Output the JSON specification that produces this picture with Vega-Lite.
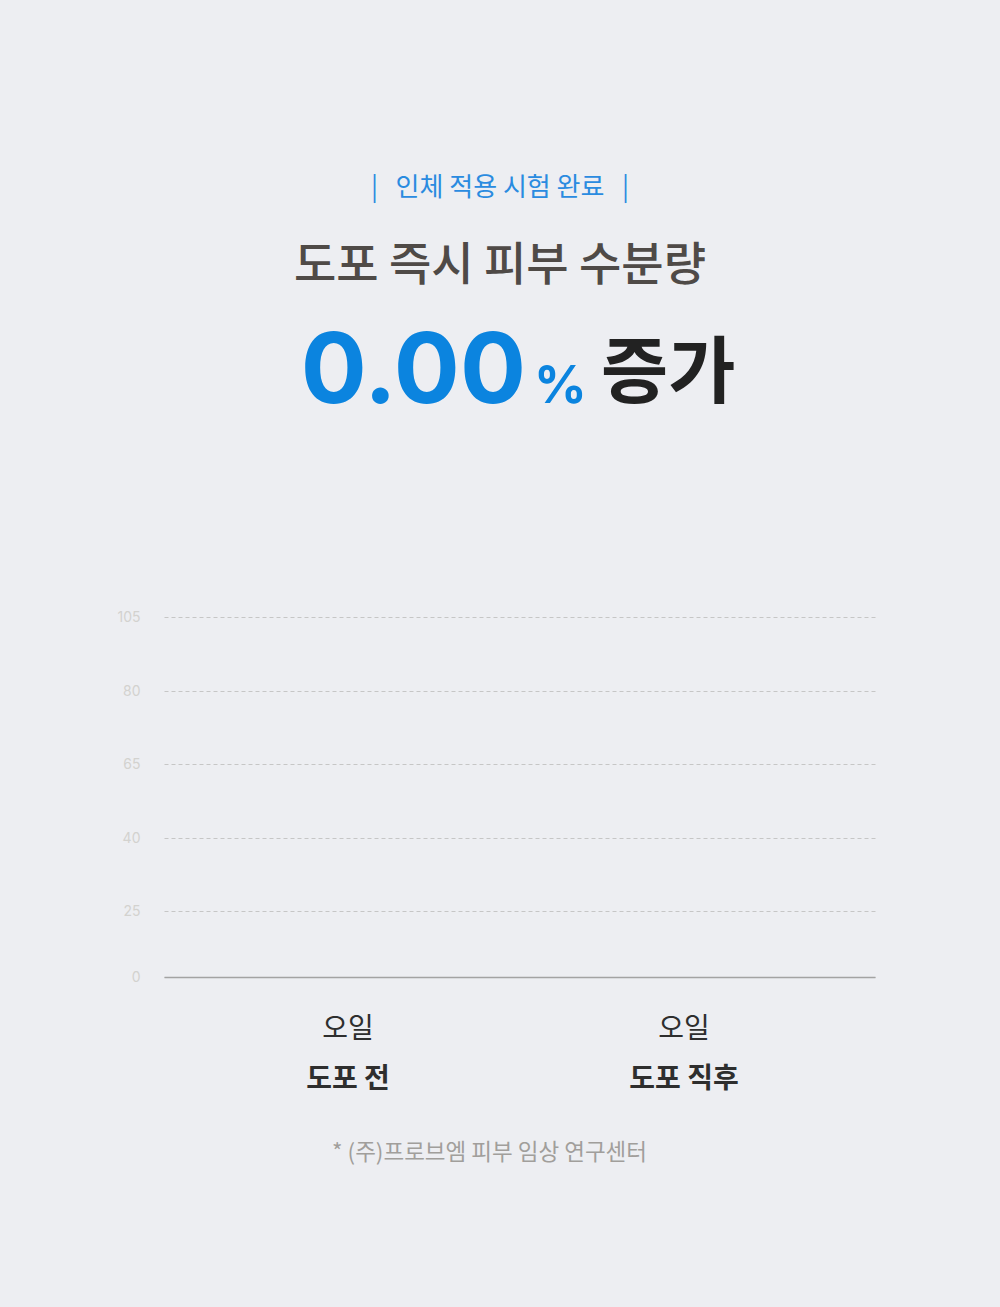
{
  "$schema": "https://vega.github.io/schema/vega-lite/v6.json",
  "autosize": {"type": "none"},
  "padding": {"left": 164, "top": 303, "right": 836, "bottom": 1004},
  "background": "#edeef2",
  "bounds": "flush",
  "spacing": 114,
  "config": {
    "view": {"stroke": null},
    "font": "Noto Sans CJK KR"
  },
  "vconcat": [
    {
      "width": 672,
      "height": 200,
      "title": {
        "text": "|\u00a0\u00a0\u00a0인체 적용 시험 완료\u00a0\u00a0\u00a0|",
        "subtitle": "도포 즉시 피부 수분량",
        "anchor": "middle",
        "font": "Noto Sans CJK KR",
        "fontSize": 26,
        "fontWeight": 400,
        "color": "#2a8be0",
        "subtitleFont": "Noto Sans CJK KR",
        "subtitleFontSize": 46,
        "subtitleFontWeight": 500,
        "subtitleColor": "#4f4a47",
        "subtitlePadding": 43,
        "offset": 14
      },
      "data": {"values": [{"항목": "도포 즉시 피부 수분량 증가율", "증가율": 0.0}]},
      "layer": [
        {
          "mark": {"type": "text", "align": "right", "baseline": "alphabetic", "dx": 26, "font": "Inter", "fontSize": 98, "fontWeight": 700, "color": "#0b84df"},
          "encoding": {"text": {"field": "증가율", "type": "quantitative", "format": ".2f"}}
        },
        {
          "mark": {"type": "text", "align": "left", "baseline": "alphabetic", "dx": 34, "font": "Inter", "fontSize": 52, "fontWeight": 700, "color": "#0b84df", "text": "%"},
          "encoding": {}
        },
        {
          "mark": {"type": "text", "align": "left", "baseline": "alphabetic", "dx": 101, "dy": -6, "font": "Noto Sans CJK KR", "fontSize": 73, "fontWeight": 700, "color": "#222222", "text": "증가"},
          "encoding": {}
        }
      ]
    },
    {
      "width": 711,
      "height": 360,
      "data": {
        "values": [
          {"제품": "오일", "시점": "도포 전", "수분량": 0},
          {"제품": "오일", "시점": "도포 직후", "수분량": 0}
        ]
      },
      "encoding": {
        "x": {
          "field": "시점",
          "type": "nominal",
          "sort": ["도포 전", "도포 직후"],
          "scale": {"paddingInner": 0, "paddingOuter": 0.058, "align": 0.41},
          "axis": {
            "title": "* (주)프로브엠 피부 임상 연구센터",
            "titleFont": "Noto Sans CJK KR",
            "titleFontSize": 22.5,
            "titleFontWeight": 400,
            "titleColor": "#a19e9b",
            "titleX": 325,
            "titleAnchor": null,
            "titlePadding": 48,
            "labelAngle": 0,
            "labelFont": "Noto Sans CJK KR",
            "labelFontSize": 28,
            "labelFontWeight": 700,
            "labelColor": "#2e2e2e",
            "labelPadding": 88,
            "ticks": false,
            "domain": true,
            "domainColor": "#a3a3a3",
            "domainWidth": 1.5,
            "grid": false
          }
        }
      },
      "layer": [
        {
          "mark": {"type": "bar", "width": {"band": 0.45}, "color": "#0b84df"},
          "encoding": {
            "y": {
              "field": "수분량",
              "type": "quantitative",
              "scale": {"domain": [0, 25, 40, 65, 80, 105], "range": [360, 294, 221, 147, 74, 0], "nice": false, "zero": false},
              "axis": {
                "title": null,
                "values": [0, 25, 40, 65, 80, 105],
                "labelFont": "Inter",
                "labelFontSize": 14,
                "labelColor": "#d3d2cf",
                "labelPadding": 24,
                "ticks": false,
                "domain": false,
                "grid": true,
                "gridColor": "#c6c6c6",
                "gridDash": [4, 3],
                "gridWidth": 1
              }
            }
          }
        },
        {
          "mark": {"type": "text", "baseline": "middle", "dy": 53, "font": "Noto Sans CJK KR", "fontSize": 28, "fontWeight": 400, "color": "#2e2e2e"},
          "encoding": {
            "y": {"datum": 0, "type": "quantitative"},
            "text": {"field": "제품", "type": "nominal"}
          }
        }
      ]
    }
  ]
}
